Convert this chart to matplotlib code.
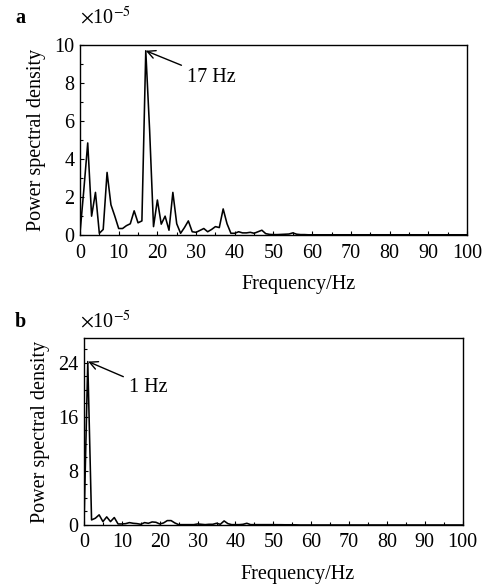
import numpy as np
import matplotlib
matplotlib.use('Agg')
import matplotlib.pyplot as plt
from matplotlib.ticker import MultipleLocator

plt.rcParams['font.family'] = ['Liberation Serif', 'DejaVu Serif']
plt.rcParams['mathtext.fontset'] = 'stix'

# ---- panel a: PSD (x1e-5), 1 Hz steps ----
psd_a_low = [0.1, 2.4, 4.85, 1.0, 2.25, 0.1, 0.3, 3.3, 1.6, 1.0,
             0.35, 0.35, 0.5, 0.6, 1.28, 0.65, 0.75, 9.7, 5.5, 0.45,
             1.85, 0.58, 1.0, 0.26, 2.25, 0.6, 0.1, 0.4, 0.75, 0.18,
             0.15, 0.25, 0.35, 0.18, 0.3, 0.45, 0.4, 1.38, 0.6, 0.1,
             0.1, 0.18, 0.12, 0.12, 0.15, 0.1, 0.18, 0.26, 0.08, 0.04,
             0.03, 0.03, 0.04, 0.05, 0.06, 0.12, 0.05, 0.03, 0.03, 0.02]
psd_a_high = [0.02] * 41
psd_a = psd_a_low + psd_a_high

# ---- panel b ----
psd_b_low = [0.0, 24.2, 0.75, 1.0, 1.5, 0.5, 1.2, 0.5, 1.1, 0.15,
             0.15, 0.2, 0.35, 0.25, 0.2, 0.1, 0.35, 0.25, 0.45, 0.4,
             0.15, 0.3, 0.65, 0.65, 0.3, 0.05, 0.05, 0.05, 0.05, 0.05,
             0.15, 0.1, 0.05, 0.1, 0.1, 0.25, 0.1, 0.6, 0.2, 0.05,
             0.05, 0.05, 0.1, 0.25, 0.05, 0.05, 0.05, 0.05, 0.05, 0.05,
             0.05, 0.04, 0.04, 0.03, 0.03, 0.03, 0.02]
psd_b_high = [0.0] * 44
psd_b = psd_b_low + psd_b_high

freq = np.arange(0, 101)

fig = plt.figure(figsize=(4.88, 5.85), dpi=100)
ax_a = fig.add_axes([0.1639, 0.598, 0.793, 0.325])
ax_b = fig.add_axes([0.1721, 0.1026, 0.776, 0.3197])

fs = 14.5


def style_axis(ax, ymax, ymajor, yminor):
    ax.set_xlim(0, 100)
    ax.set_ylim(0, ymax)
    ax.xaxis.set_major_locator(MultipleLocator(10))
    ax.xaxis.set_minor_locator(MultipleLocator(5))
    ax.yaxis.set_major_locator(MultipleLocator(ymajor))
    ax.yaxis.set_minor_locator(MultipleLocator(yminor))
    ax.tick_params(which='both', direction='in', labelsize=fs, width=0.8)
    ax.tick_params(which='major', length=3)
    ax.tick_params(axis='x', which='major', pad=6)
    ax.tick_params(axis='y', which='major', pad=4)
    ax.tick_params(which='minor', length=2)
    for s in ax.spines.values():
        s.set_linewidth(1.0)
    ax.set_xlabel('Frequency/Hz', fontsize=fs, x=0.565, labelpad=9)
    ax.set_ylabel('Power spectral density', fontsize=fs, labelpad=6)


ax_a.plot(freq, psd_a, color='black', lw=1.15)
style_axis(ax_a, 10, 2, 1)
ax_a.annotate('17 Hz', xy=(17, 9.7), xytext=(27.6, 8.3), fontsize=fs,
              va='center', ha='left',
              arrowprops=dict(arrowstyle='->', color='black', lw=1.0,
                              shrinkA=2, shrinkB=0))

ax_b.plot(freq, psd_b, color='black', lw=1.15)
style_axis(ax_b, 27.7, 8, 2)
ax_b.annotate('1 Hz', xy=(1.1, 24.2), xytext=(11.8, 20.4), fontsize=fs,
              va='center', ha='left',
              arrowprops=dict(arrowstyle='->', color='black', lw=1.0,
                              shrinkA=2, shrinkB=0))

# panel letters and scale factor
fig.text(15 / 488, 1 - 18 / 585, 'a', fontsize=fs, fontweight='bold', va='center')
fig.text(80 / 488, 1 - 18 / 585, r'$\times$10$^{-5}$', fontsize=fs, va='center')
fig.text(15 / 488, 1 - 322 / 585, 'b', fontsize=fs, fontweight='bold', va='center')
fig.text(80 / 488, 1 - 322 / 585, r'$\times$10$^{-5}$', fontsize=fs, va='center')

fig.savefig('out.png', dpi=100)
